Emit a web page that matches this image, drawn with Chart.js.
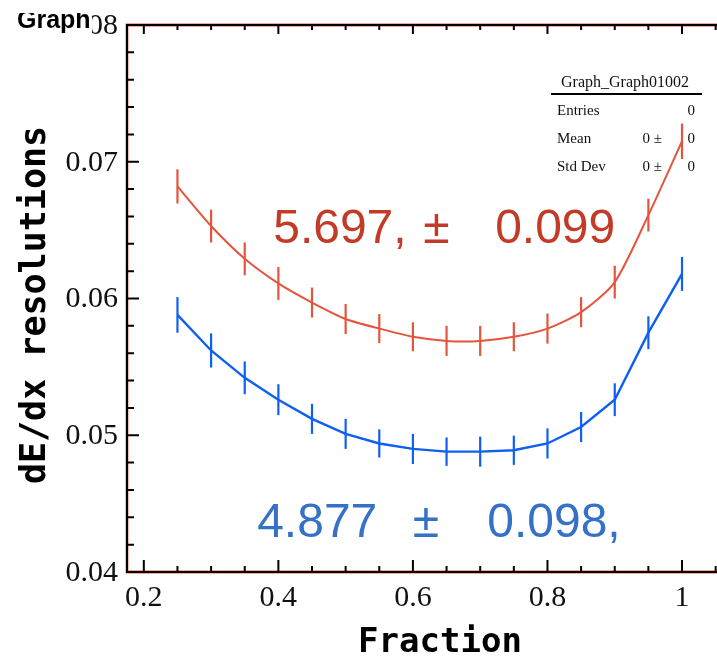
<!DOCTYPE html>
<html>
<head>
<meta charset="utf-8">
<script src="https://cdn.jsdelivr.net/npm/chart.js@4.4.1/dist/chart.umd.min.js"></script>
<style>
  html, body { margin: 0; padding: 0; background: #fff; }
  #wrap { width: 717px; height: 657px; }
</style>
</head>
<body>
<div id="wrap"><canvas id="myChart" width="717" height="657"></canvas></div>
<script>
// fraction of hits kept
const fractions = [0.25, 0.30, 0.35, 0.40, 0.45, 0.50, 0.55, 0.60, 0.65, 0.70, 0.75, 0.80, 0.85, 0.90, 0.95, 1.00];

// red graph
const redRes = [0.0682, 0.0653, 0.0629, 0.0611, 0.0597, 0.0585, 0.0578, 0.0572, 0.0569, 0.0569, 0.0572, 0.0578, 0.0590, 0.0612, 0.0661, 0.0715];
const redErr = [0.00125, 0.0012, 0.0012, 0.0012, 0.0011, 0.0011, 0.00106, 0.00106, 0.0011, 0.0011, 0.00106, 0.0011, 0.0011, 0.0012, 0.0012, 0.0013];

// blue graph
const blueRes = [0.0588, 0.0562, 0.0542, 0.0526, 0.0512, 0.0501, 0.0494, 0.0490, 0.0488, 0.0488, 0.0489, 0.0494, 0.0506, 0.0526, 0.0575, 0.0618];
const blueErr = [0.0013, 0.00125, 0.0012, 0.00113, 0.0011, 0.0011, 0.00103, 0.0011, 0.00104, 0.0011, 0.00107, 0.0011, 0.0011, 0.0012, 0.0012, 0.00124];

// axes
const xTicks = [0.2, 0.4, 0.6, 0.8, 1.0];
const xTickLabels = ['0.2', '0.4', '0.6', '0.8', '1'];
const yTicks = [0.04, 0.05, 0.06, 0.07, 0.08];
const yTickLabels = ['0.04', '0.05', '0.06', '0.07', '0.08'];

const statsRows = [
  ['Entries', '', '0'],
  ['Mean', '0 \u00b1', '0'],
  ['Std Dev', '0 \u00b1', '0'],
];

const RED_LINE = '#e4553d';
const BLUE_LINE = '#0f5ff2';
const RED_TEXT = '#c23b27';
const BLUE_TEXT = '#3571c6';

function pts(ys) {
  return fractions.map((x, i) => ({ x: x, y: ys[i] }));
}

// error bars, ROOT style (no caps)
const errorBars = {
  id: 'errorBars',
  afterDatasetsDraw(chart) {
    const ctx = chart.ctx;
    const ys = chart.scales.y;
    const errs = [redErr, blueErr];
    ctx.save();
    chart.data.datasets.forEach((ds, di) => {
      const meta = chart.getDatasetMeta(di);
      ctx.strokeStyle = ds.borderColor;
      ctx.lineWidth = 2.2;
      meta.data.forEach((p, i) => {
        const v = ds.data[i].y;
        ctx.beginPath();
        ctx.moveTo(p.x, ys.getPixelForValue(v - errs[di][i]));
        ctx.lineTo(p.x, ys.getPixelForValue(v + errs[di][i]));
        ctx.stroke();
      });
    });
    // fit results
    const xs = chart.scales.x;
    ctx.font = '48px "Liberation Sans", Arial, sans-serif';
    ctx.textBaseline = 'alphabetic';
    ctx.textAlign = 'left';
    ctx.fillStyle = RED_TEXT;
    let by = ys.getPixelForValue(0.06406);
    ctx.fillText('5.697,', xs.getPixelForValue(0.3923), by);
    ctx.fillText('\u00b1', xs.getPixelForValue(0.6152), by);
    ctx.fillText('0.099', xs.getPixelForValue(0.7222), by);
    ctx.fillStyle = BLUE_TEXT;
    by = ys.getPixelForValue(0.04255);
    ctx.fillText('4.877', xs.getPixelForValue(0.3685), by);
    ctx.fillText('\u00b1', xs.getPixelForValue(0.5998), by);
    ctx.fillText('0.098,', xs.getPixelForValue(0.7105), by);
    ctx.restore();
  }
};

// stats box, drawn under the graphs
const statsBox = {
  id: 'statsBox',
  beforeDatasetsDraw(chart) {
    const ctx = chart.ctx;
    ctx.save();
    ctx.fillStyle = '#111';
    ctx.font = '16px "Liberation Serif", "Times New Roman", serif';
    ctx.textAlign = 'center';
    ctx.textBaseline = 'alphabetic';
    ctx.fillText('Graph_Graph01002', 625, 87);
    ctx.strokeStyle = '#000';
    ctx.lineWidth = 2;
    ctx.beginPath();
    ctx.moveTo(551, 94);
    ctx.lineTo(702, 94);
    ctx.stroke();
    ctx.font = '15px "Liberation Serif", "Times New Roman", serif';
    statsRows.forEach((r, i) => {
      const y = 115 + i * 28;
      ctx.textAlign = 'left';
      ctx.fillText(r[0], 557, y);
      ctx.textAlign = 'right';
      if (r[1]) ctx.fillText(r[1], 662, y);
      ctx.fillText(r[2], 695, y);
    });
    ctx.restore();
  }
};

// ROOT-like frame: inward ticks, serif labels, bold mono titles
const rootFrame = {
  id: 'rootFrame',
  afterDraw(chart) {
    const ctx = chart.ctx;
    const a = chart.chartArea;
    const xs = chart.scales.x;
    const ys = chart.scales.y;
    ctx.save();

    // frame
    ctx.strokeStyle = '#e4553d';
    ctx.lineWidth = 2.8;
    ctx.beginPath();
    ctx.moveTo(a.right + 5, a.top);
    ctx.lineTo(a.left, a.top);
    ctx.lineTo(a.left, a.bottom);
    ctx.lineTo(a.right + 5, a.bottom);
    ctx.stroke();
    ctx.strokeStyle = '#000';
    ctx.lineWidth = 2;
    ctx.stroke();

    ctx.lineWidth = 2;
    ctx.beginPath();
    // x ticks (bottom + top)
    for (let k = 0; k <= 20; k++) {
      const v = Math.round((0.2 + k * 0.05) * 1000) / 1000;
      if (v > xs.max) break;
      const px = xs.getPixelForValue(v);
      const major = xTicks.some(t => Math.abs(t - v) < 1e-6);
      ctx.moveTo(px, a.bottom);
      ctx.lineTo(px, a.bottom - (major ? 12 : 6));
      ctx.moveTo(px, a.top);
      ctx.lineTo(px, a.top + (major ? 9 : 5));
    }
    // y ticks
    for (let k = 1; k < 20; k++) {
      const v = 0.04 + k * 0.002;
      const py = ys.getPixelForValue(v);
      const major = k % 5 === 0;
      ctx.moveTo(a.left, py);
      ctx.lineTo(a.left + (major ? 12 : 7), py);
    }
    ctx.stroke();

    // tick labels
    ctx.fillStyle = '#111';
    ctx.font = '30px "Liberation Serif", "Times New Roman", serif';
    ctx.textAlign = 'center';
    ctx.textBaseline = 'middle';
    xTicks.forEach((t, i) => {
      ctx.fillText(xTickLabels[i], xs.getPixelForValue(t), 598);
    });
    ctx.textAlign = 'right';
    yTicks.forEach((t, i) => {
      ctx.fillText(yTickLabels[i], 118, ys.getPixelForValue(t) + 1);
    });

    // axis titles
    ctx.fillStyle = '#000';
    ctx.font = 'bold 34px "DejaVu Sans Mono", monospace';
    ctx.textAlign = 'center';
    ctx.textBaseline = 'alphabetic';
    ctx.fillText('Fraction', 440, 652);
    ctx.save();
    ctx.font = 'bold 35px "DejaVu Sans Mono", monospace';
    ctx.translate(45, 305);
    ctx.rotate(-Math.PI / 2);
    ctx.fillText('dE/dx resolutions', 0, 0);
    ctx.restore();

    // title pave, partly hiding the top label
    ctx.fillStyle = '#fff';
    ctx.fillRect(0, 0, 92, 40);
    ctx.save();
    ctx.beginPath();
    ctx.rect(0, 13, 120, 40);
    ctx.clip();
    ctx.fillStyle = '#000';
    ctx.font = 'bold 25px "Liberation Sans", Arial, sans-serif';
    ctx.textAlign = 'left';
    ctx.fillText('Graph', 17, 28);
    ctx.restore();

    ctx.restore();
  }
};

const ctx = document.getElementById('myChart').getContext('2d');
const myChart = new Chart(ctx, {
  type: 'line',
  data: {
    datasets: [
      {
        label: 'red',
        data: pts(redRes),
        borderColor: RED_LINE,
        borderWidth: 2,
        pointRadius: 0,
        tension: 0.25,
        fill: false,
      },
      {
        label: 'blue',
        data: pts(blueRes),
        borderColor: BLUE_LINE,
        borderWidth: 2.4,
        pointRadius: 0,
        tension: 0,
        fill: false,
      },
    ],
  },
  options: {
    responsive: false,
    animation: false,
    devicePixelRatio: 1,
    layout: { padding: { left: 127, top: 25, right: 0, bottom: 85 } },
    plugins: {
      legend: { display: false },
      tooltip: { enabled: false },
    },
    scales: {
      x: { type: 'linear', display: false, min: 0.175, max: 1.052 },
      y: { type: 'linear', display: false, min: 0.04, max: 0.08 },
    },
  },
  plugins: [statsBox, errorBars, rootFrame],
});
</script>
</body>
</html>
